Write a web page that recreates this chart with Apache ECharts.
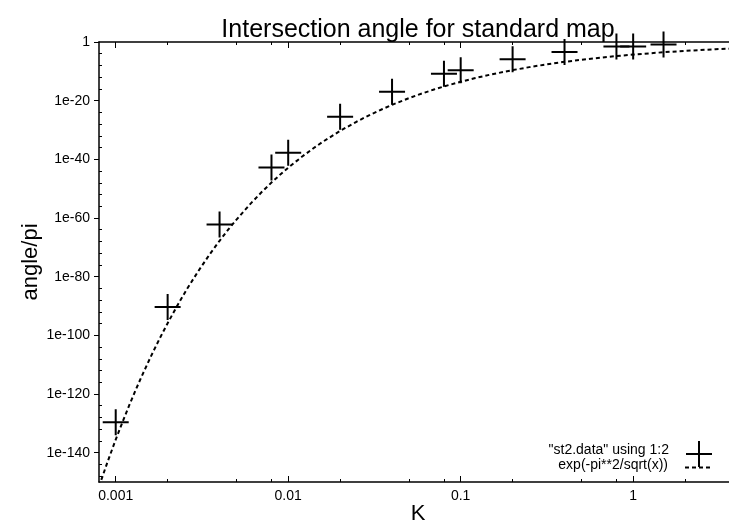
<!DOCTYPE html>
<html>
<head>
<meta charset="utf-8">
<script src="https://cdn.jsdelivr.net/npm/echarts@6/dist/echarts.min.js"></script>
<style>
html,body{margin:0;padding:0;background:#fff;}
#chart{width:729px;height:529px;}
</style>
</head>
<body>
<div id="chart"></div>
<script>
// ---- data ----
const kValues = [0.001, 0.002, 0.004, 0.008, 0.01, 0.02, 0.04, 0.08, 0.1, 0.2, 0.4, 0.8, 1, 1.5];
const angleValues = [2.5e-130, 5e-91, 6.3e-63, 1.6e-43, 1.6e-38, 3.2e-26, 1e-17, 1.6e-11, 2.5e-10, 1.3e-6, 4e-4, 3.2e-2, 3.2e-2, 0.13];

const curveK = [0.0008, 0.0009, 0.001, 0.0011, 0.0012, 0.0013, 0.0014, 0.0016, 0.0018, 0.002, 0.0023, 0.0026,
  0.003, 0.0035, 0.004, 0.0045, 0.005, 0.006, 0.007, 0.008, 0.009, 0.01, 0.012, 0.014, 0.016, 0.02, 0.025,
  0.03, 0.035, 0.04, 0.05, 0.06, 0.07, 0.08, 0.1, 0.12, 0.15, 0.2, 0.25, 0.3, 0.4, 0.5, 0.6, 0.8, 1, 1.5, 2, 3, 4];
const curveValues = [2.9e-152, 1.3e-143, 2.9e-136, 5.8e-130, 1.9e-124, 1.3e-119, 2.8e-115, 6.9e-108, 9.3e-102, 1.4e-96, 4.2e-90, 8.7e-85,
  5.5e-79, 3.5e-73, 1.7e-68, 1.3e-64, 2.4e-61, 4.6e-56, 5.9e-52, 1.2e-48, 6.6e-46, 1.4e-43, 7.4e-40, 5.9e-37, 1.3e-34, 4.9e-31, 7.8e-28,
  1.8e-25, 1.2e-23, 3.7e-22, 6.8e-20, 3.2e-18, 6.3e-17, 7.1e-16, 2.8e-14, 4.3e-13, 8.5e-12, 2.6e-10, 2.7e-9, 1.5e-8, 1.7e-7, 8.7e-7, 2.9e-6, 1.6e-5, 5.2e-5, 3.2e-4, 9.3e-4, 3.4e-3, 7.2e-3];

const xTickValues = [0.001, 0.01, 0.1, 1];
const xTickLabels = ['0.001', '0.01', '0.1', '1'];
const xMinorTickValues = [0.002, 0.005, 0.008, 0.02, 0.05, 0.08, 0.2, 0.5, 0.8, 2];

const yTickValues = [1e-140, 1e-120, 1e-100, 1e-80, 1e-60, 1e-40, 1e-20, 1];
const yTickLabels = ['1e-140', '1e-120', '1e-100', '1e-80', '1e-60', '1e-40', '1e-20', '1'];
const yMinorTickValues = [1e-148, 1e-144, 1e-136, 1e-132, 1e-128, 1e-124, 1e-116, 1e-112, 1e-108, 1e-104,
  1e-96, 1e-92, 1e-88, 1e-84, 1e-76, 1e-72, 1e-68, 1e-64, 1e-56, 1e-52, 1e-48, 1e-44,
  1e-36, 1e-32, 1e-28, 1e-24, 1e-16, 1e-12, 1e-8, 1e-4];

const xRange = [0.0008, 4];
const yRange = [1e-150, 1];

const titleText = 'Intersection angle for standard map';
const xName = 'K';
const yName = 'angle/pi';
const seriesNames = ['"st2.data" using 1:2', 'exp(-pi**2/sqrt(x))'];

// ---- build option (log10 mapping onto linear value axes) ----
const L = v => Math.log10(v);
const FONT = '"Liberation Sans", Arial, Helvetica, sans-serif';
const near = (a, b) => Math.abs(a - b) < 1e-6;

function labelFrom(values, labels) {
  return function (v) {
    for (let i = 0; i < values.length; i++) if (near(L(values[i]), v)) return labels[i];
    return '';
  };
}

const axisLineStyle = { color: '#000', width: 1.5 };
const xMin = L(xRange[0]), xMax = L(xRange[1]);
const yMin = L(yRange[0]), yMax = L(yRange[1]);

function xAxisDef(pos, major, withLabels) {
  return {
    type: 'value', position: pos, min: xMin, max: xMax, gridIndex: 0,
    splitLine: { show: false },
    axisLine: { show: major, onZero: false, lineStyle: axisLineStyle },
    axisTick: {
      show: true, inside: true, length: major ? 6 : 3,
      lineStyle: { color: '#000', width: 1 },
      customValues: (major ? xTickValues : xMinorTickValues).map(L)
    },
    axisLabel: withLabels ? {
      show: true, customValues: xTickValues.map(L), formatter: labelFrom(xTickValues, xTickLabels),
      color: '#000', fontSize: 14, fontFamily: FONT, margin: 7
    } : { show: false },
    name: withLabels ? xName : '',
    nameLocation: 'middle', nameGap: 21, nameMoveOverlap: false,
    nameTextStyle: { color: '#000', fontSize: 22, fontFamily: FONT }
  };
}

function legendText(padBottom) {
  return {
    color: '#000', fontSize: 14, fontFamily: FONT, padding: [0, 12, 0, 0],
    rich: { t: { color: '#000', fontSize: 14, fontFamily: FONT, padding: [0, 0, padBottom, 0] } }
  };
}

const option = {
  animation: false,
  backgroundColor: '#fff',
  title: {
    text: titleText, left: 418, top: 18, textAlign: 'center', padding: 0,
    textStyle: { color: '#000', fontSize: 25, fontWeight: 'normal', fontFamily: FONT }
  },
  grid: { left: 99, top: 42, width: 638, height: 440, containLabel: false, outerBoundsMode: 'none' },
  xAxis: [
    xAxisDef('bottom', true, true),
    xAxisDef('bottom', false, false),
    xAxisDef('top', true, false),
    xAxisDef('top', false, false)
  ],
  yAxis: [
    {
      type: 'value', position: 'left', min: yMin, max: yMax,
      splitLine: { show: false },
      axisLine: { show: true, onZero: false, lineStyle: axisLineStyle },
      axisTick: { show: true, inside: false, length: 5, lineStyle: { color: '#000', width: 1 }, customValues: yTickValues.map(L) },
      axisLabel: { show: true, customValues: yTickValues.map(L), formatter: labelFrom(yTickValues, yTickLabels),
        color: '#000', fontSize: 14, fontFamily: FONT, margin: 9 },
      name: yName, nameLocation: 'middle', nameRotate: 90, nameGap: 57, nameMoveOverlap: false,
      nameTextStyle: { color: '#000', fontSize: 22, fontFamily: FONT }
    },
    {
      type: 'value', position: 'left', min: yMin, max: yMax,
      splitLine: { show: false },
      axisLine: { show: false, onZero: false },
      axisTick: { show: true, inside: true, length: 3, lineStyle: { color: '#000', width: 1 }, customValues: yMinorTickValues.map(L) },
      axisLabel: { show: false }
    }
  ],
  legend: [
    {
      data: [seriesNames[0]], right: 17, top: 441, orient: 'vertical', align: 'right', padding: 0,
      itemWidth: 26, itemHeight: 26, selectedMode: false,
      formatter: name => '{t|' + name + '}',
      textStyle: legendText(8)
    },
    {
      data: [seriesNames[1]], right: 17, top: 457, orient: 'vertical', align: 'right', padding: 0,
      itemWidth: 26, itemHeight: 26, selectedMode: false,
      itemStyle: { opacity: 0 },
      formatter: name => '{t|' + name + '}',
      textStyle: legendText(5)
    }
  ],
  series: [
    {
      name: seriesNames[1], type: 'line', xAxisIndex: 0, yAxisIndex: 0,
      data: curveK.map((k, i) => [L(k), L(curveValues[i])]),
      showSymbol: false, symbol: 'none', smooth: false, clip: true,
      lineStyle: { color: '#000', width: 2, type: [4, 3] },
      itemStyle: { color: '#000' }, z: 3
    },
    {
      name: seriesNames[0], type: 'scatter', xAxisIndex: 0, yAxisIndex: 0,
      data: kValues.map((k, i) => [L(k), L(angleValues[i])]),
      symbol: 'path://M0,12 L26,12 L26,14 L0,14 Z M12,0 L14,0 L14,26 L12,26 Z',
      symbolSize: 26, symbolKeepAspect: true,
      itemStyle: { color: '#000', opacity: 1 }, z: 4
    }
  ]
};

const chart = echarts.init(document.getElementById('chart'), null, { renderer: 'canvas' });
chart.setOption(option);
</script>
</body>
</html>
